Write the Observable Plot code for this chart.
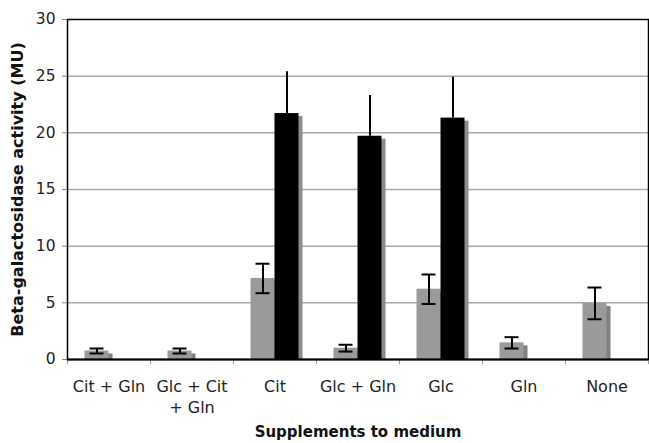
<!DOCTYPE html>
<html>
<head>
<meta charset="utf-8">
<script src="https://cdn.jsdelivr.net/npm/d3@7"></script>
<script src="https://cdn.jsdelivr.net/npm/@observablehq/plot@0.6"></script>
<style>
  html, body { margin: 0; padding: 0; background: #fff; }
  svg { font-family: "DejaVu Sans", Verdana, sans-serif; }
</style>
</head>
<body>
<div id="chart"></div>
<script>
const categories = ["Cit + Gln", "Glc + Cit + Gln", "Cit", "Glc + Gln", "Glc", "Gln", "None"];
const tickLabels = ["Cit + Gln", "Glc + Cit\n+ Gln", "Cit", "Glc + Gln", "Glc", "Gln", "None"];
// gray series (all conditions)
const grayValues = [0.75, 0.75, 7.15, 1.0, 6.2, 1.47, 4.95];
const grayErrors = [0.22, 0.22, 1.3, 0.3, 1.3, 0.5, 1.4];
// black series (only some conditions)
const blackValues = [null, null, 21.7, 19.7, 21.3, null, null];
const blackErrors = [null, null, 3.7, 3.6, 3.6, null, null];
const yTicks = [0, 5, 10, 15, 20, 25, 30];
const yTitle = "Beta-galactosidase activity (MU)";
const xTitle = "Supplements to medium";

const gray = categories.map((c, i) => ({cat: c, v: grayValues[i], e: grayErrors[i]}));
const black = categories.map((c, i) => ({cat: c, v: blackValues[i], e: blackErrors[i]})).filter(d => d.v != null);

const W = 649, H = 443;
const mL = 67, mR = 1, mT = 19, mB = 84;
const band = (W - mL - mR) / categories.length;
const barW = 24;
const inset = (band - barW) / 2;
const off = barW / 2;

const chart = Plot.plot({
  width: W, height: H,
  marginLeft: mL, marginRight: mR, marginTop: mT, marginBottom: mB,
  style: {fontFamily: '"DejaVu Sans", Verdana, sans-serif', background: "#fff", overflow: "visible"},
  x: {domain: categories, padding: 0, axis: null},
  y: {domain: [0, 30], axis: null},
  marks: [
    // gridlines
    Plot.ruleY(yTicks.filter(t => t > 0 && t < 30), {stroke: "#a8a8a8", strokeWidth: 1.5}),
    // y axis ticks and labels
    Plot.axisY({ticks: yTicks, tickSize: 5, tickPadding: 7, stroke: "#888", fontSize: 15.5, fill: "#222", label: null}),
    // shadows
    Plot.barY(gray, {x: "cat", y: "v", dx: -off + 4, dy: 3, insetBottom: 3, insetLeft: inset, insetRight: inset, fill: "#808080"}),
    Plot.barY(black, {x: "cat", y: "v", dx: off + 4, dy: 3, insetBottom: 3, insetLeft: inset, insetRight: inset, fill: "#8c8c8c"}),
    // bars
    Plot.barY(gray, {x: "cat", y: "v", dx: -off, insetLeft: inset, insetRight: inset, fill: "#9a9a9a"}),
    Plot.barY(black, {x: "cat", y: "v", dx: off, insetLeft: inset, insetRight: inset, fill: "#000"}),
    // error bars gray series
    Plot.ruleX(gray, {x: "cat", y1: d => d.v - d.e, y2: d => d.v + d.e, dx: -off, stroke: "#000", strokeWidth: 2}),
    Plot.tickY(gray, {x: "cat", y: d => d.v - d.e, dx: -off, insetLeft: band / 2 - 7, insetRight: band / 2 - 7, stroke: "#000", strokeWidth: 2}),
    Plot.tickY(gray, {x: "cat", y: d => d.v + d.e, dx: -off, insetLeft: band / 2 - 7, insetRight: band / 2 - 7, stroke: "#000", strokeWidth: 2}),
    // error bars black series
    Plot.ruleX(black, {x: "cat", y1: "v", y2: d => d.v + d.e, dx: off, stroke: "#000", strokeWidth: 2}),
    // category boundary ticks
    Plot.ruleX(categories, {x: d => d, y1: 0, y2: -0.45, dx: -band / 2, stroke: "#999", strokeWidth: 1}),
    Plot.ruleX([categories[categories.length - 1]], {x: d => d, y1: 0, y2: -0.45, dx: band / 2, stroke: "#999", strokeWidth: 1}),
    // frame and baseline
    Plot.frame({stroke: "#000", strokeWidth: 1.5}),
    Plot.ruleY([0], {stroke: "#000", strokeWidth: 2}),
    // x tick labels
    Plot.text(categories, {x: d => d, y: 0, text: (d, i) => tickLabels[i], dy: 18, lineAnchor: "top", lineHeight: 1.3, fontSize: 16, fill: "#222"}),
    // axis titles
    Plot.text([xTitle], {frameAnchor: "bottom", dy: 73, lineAnchor: "middle", fontSize: 15, fontWeight: "bold", fill: "#111"}),
    Plot.text([yTitle], {frameAnchor: "left", dx: -50, rotate: -90, textAnchor: "middle", lineAnchor: "middle", fontSize: 16, fontWeight: "bold", fill: "#111"})
  ]
});
document.getElementById("chart").appendChild(chart);
</script>
</body>
</html>
